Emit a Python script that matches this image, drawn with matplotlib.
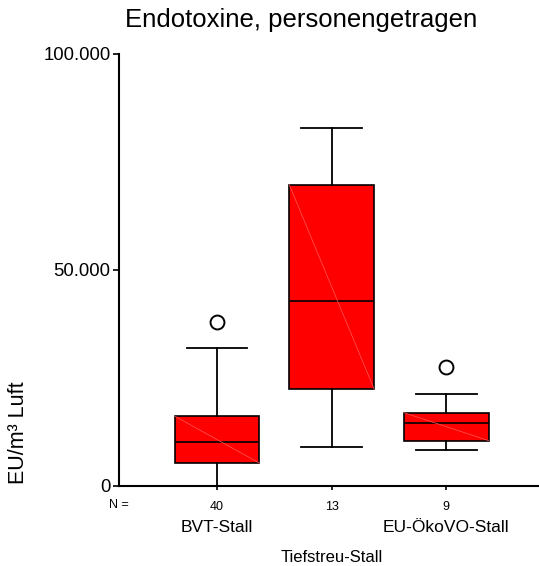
import matplotlib
matplotlib.use("Agg")
import matplotlib.pyplot as plt
import matplotlib.transforms as mtransforms

plt.rcParams['font.family'] = ['Liberation Sans', 'DejaVu Sans']

# values (EU/m³ air)
groups = ["BVT-Stall", "", "EU-ÖkoVO-Stall"]
counts = [40, 13, 9]
whislo = [0, 9030, 8260]
q1 = [5300, 22450, 10490]
med = [10100, 42800, 14500]
q3 = [16200, 69750, 16970]
whishi = [31900, 82950, 21300]
outliers = [[38000], [], [27550]]

yticks = [0, 50000, 100000]
yticklabels = ["0", "50.000", "100.000"]

fig = plt.figure(figsize=(5.39, 5.66), dpi=100)
ax = fig.add_axes([119 / 539, 80 / 566, 420 / 539, 432 / 566])

stats = []
for i in range(len(counts)):
    stats.append(dict(whislo=whislo[i], q1=q1[i], med=med[i], q3=q3[i],
                      whishi=whishi[i], fliers=outliers[i]))

pos = [1, 2, 3]
ax.bxp(stats, positions=pos, widths=0.74, capwidths=0.53, patch_artist=True,
       manage_ticks=False,
       boxprops=dict(facecolor="#ff0000", edgecolor="black", linewidth=1.2),
       medianprops=dict(color="black", linewidth=1.2),
       whiskerprops=dict(color="black", linewidth=1.3),
       capprops=dict(color="black", linewidth=1.3),
       flierprops=dict(marker="o", markersize=10, markerfacecolor="white",
                       markeredgecolor="black", markeredgewidth=1.4))

# faint diagonal seam inside each box
for p, lo, hi in zip(pos, q1, q3):
    ax.plot([p - 0.37, p + 0.37], [hi, lo], color="#ff5a5a", lw=0.5, zorder=3)

ax.set_xlim(0.1454, 3.808)
ax.set_ylim(0, 100000)
ax.spines["top"].set_visible(False)
ax.spines["right"].set_visible(False)
ax.spines["left"].set_linewidth(1.5)
ax.spines["bottom"].set_linewidth(1.5)

ax.set_yticks(yticks)
ax.set_yticklabels(yticklabels, fontsize=13.3)
ax.tick_params(axis="y", length=4, width=1.2, pad=2)

ax.set_xticks(pos)
ax.set_xticklabels([str(c) for c in counts], fontsize=9)
ax.tick_params(axis="x", length=3, width=1.2, pad=8)

trans = mtransforms.blended_transform_factory(ax.transData, fig.transFigure)
ax.text(0.1454, 1 - 505 / 566, "N =", transform=trans, fontsize=9,
        ha="center", va="center")
for p, g in zip(pos, groups):
    if g:
        ax.text(p, 1 - 528 / 566, g, transform=trans, fontsize=12.5,
                ha="center", va="center")
ax.text(2, 1 - 557 / 566, "Tiefstreu-Stall", transform=trans, fontsize=12,
        ha="center", va="center")

fig.text(301 / 539, 1 - 20 / 566, "Endotoxine, personengetragen",
         fontsize=18.5, ha="center", va="center")
fig.text(19 / 539, 1 - 433 / 566, "EU/m³ Luft", fontsize=15.5,
         rotation=90, ha="center", va="center")

fig.savefig("out.png", dpi=100)
